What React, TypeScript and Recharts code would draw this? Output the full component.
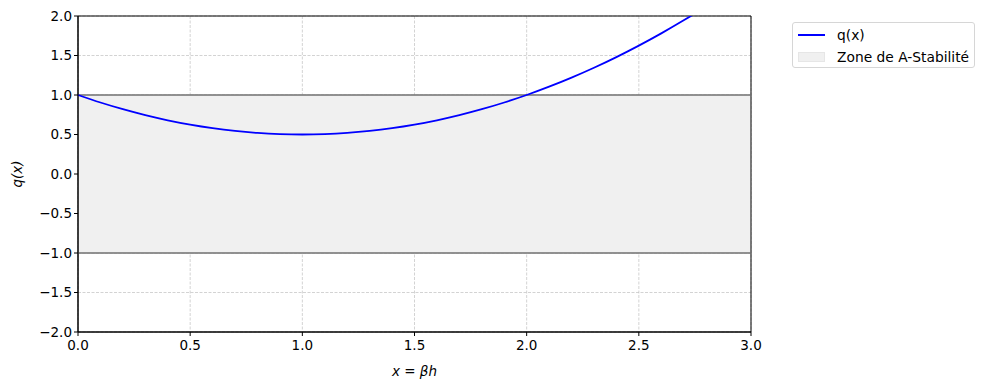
import React from 'react';
import { ComposedChart, Line, XAxis, YAxis, CartesianGrid, ReferenceArea, ReferenceLine } from 'recharts';

const xValues = [0, 0.1, 0.2, 0.3, 0.4, 0.5, 0.6, 0.7, 0.8, 0.9, 1.0, 1.1, 1.2, 1.3, 1.4, 1.5, 1.6, 1.7, 1.8, 1.9, 2.0, 2.1, 2.2, 2.3, 2.4, 2.5, 2.6, 2.7, 2.8, 2.9, 3.0];
const qValues = [1.0, 0.905, 0.82, 0.745, 0.68, 0.625, 0.58, 0.545, 0.52, 0.505, 0.5, 0.505, 0.52, 0.545, 0.58, 0.625, 0.68, 0.745, 0.82, 0.905, 1.0, 1.105, 1.22, 1.345, 1.48, 1.625, 1.78, 1.945, 2.12, 2.305, 2.5];
const xTicks = [0, 0.5, 1, 1.5, 2, 2.5, 3];
const yTicks = [-2, -1.5, -1, -0.5, 0, 0.5, 1, 1.5, 2];
const stabilityBounds = [-1, 1];

const FONT = 'DejaVu Sans, sans-serif';

const data = xValues.map((x, i) => ({ x, q: qValues[i] }));
const fmt = (v: number) => v.toFixed(1).replace('-', '\u2212');

// legend drawn as a plain box so it doesn't eat into the plot width
const LegendBox = () => (
    <div style={{ position: 'absolute', left: 792, top: 22, width: 183, height: 46, boxSizing: 'border-box', border: '1px solid #d6d6d6', borderRadius: 3, background: '#fff', padding: '1px 0 0 5px', fontFamily: FONT, fontSize: 13.8, color: '#000' }}>
        <div style={{ display: 'flex', alignItems: 'center', height: 22 }}>
            <div style={{ width: 27, height: 2, background: '#0000ff', marginRight: 12 }} />
            <span>q(x)</span>
        </div>
        <div style={{ display: 'flex', alignItems: 'center', height: 21 }}>
            <div style={{ width: 27, height: 10, background: '#f0f0f0', border: '1px solid #e6e6e6', boxSizing: 'border-box', marginRight: 12 }} />
            <span>Zone de A-Stabilité</span>
        </div>
    </div>
);

const App = () => {
    return (
        <div style={{ position: 'absolute', left: 0, top: 0, width: 984, height: 390, background: '#fff' }}>
            <ComposedChart width={984} height={390} data={data} margin={{ top: 16, right: 233, left: 0, bottom: 0 }}>
                <ReferenceArea y1={stabilityBounds[0]} y2={stabilityBounds[1]} fill="#f0f0f0" fillOpacity={1} stroke="none" />
                <CartesianGrid stroke="#c0c0c0" strokeWidth={0.7} strokeDasharray="3 1.5" />
                <ReferenceLine y={stabilityBounds[1]} stroke="#707070" strokeWidth={1.6} />
                <ReferenceLine y={stabilityBounds[0]} stroke="#707070" strokeWidth={1.6} />
                <XAxis dataKey="x" type="number" domain={[0, 3]} ticks={xTicks} tickFormatter={fmt} height={58}
                    axisLine={{ stroke: '#000' }} tickLine={{ stroke: '#000' }} tickSize={4}
                    tick={{ fontSize: 13.5, fill: '#000', fontFamily: FONT, dy: 2 }}
                    label={{ value: 'x = βh', position: 'insideBottom', offset: 14, style: { fontSize: 13.5, fill: '#000', fontFamily: FONT, fontStyle: 'italic' } }} />
                <YAxis type="number" domain={[-2, 2]} ticks={yTicks} tickFormatter={fmt} width={78} allowDataOverflow
                    axisLine={{ stroke: '#000' }} tickLine={{ stroke: '#000' }} tickSize={4}
                    tick={{ fontSize: 13.5, fill: '#000', fontFamily: FONT }}
                    label={{ value: 'q(x)', angle: -90, position: 'insideLeft', offset: 17, style: { textAnchor: 'middle', fontSize: 13.5, fill: '#000', fontFamily: FONT, fontStyle: 'italic' } }} />
                <Line type="monotone" dataKey="q" stroke="#0000ff" strokeWidth={1.8} dot={false} isAnimationActive={false} />
                <ReferenceArea x1={0} x2={3} y1={-2} y2={2} fill="none" stroke="#000" strokeWidth={1} />
            </ComposedChart>
            <LegendBox />
        </div>
    );
};

export default App;
